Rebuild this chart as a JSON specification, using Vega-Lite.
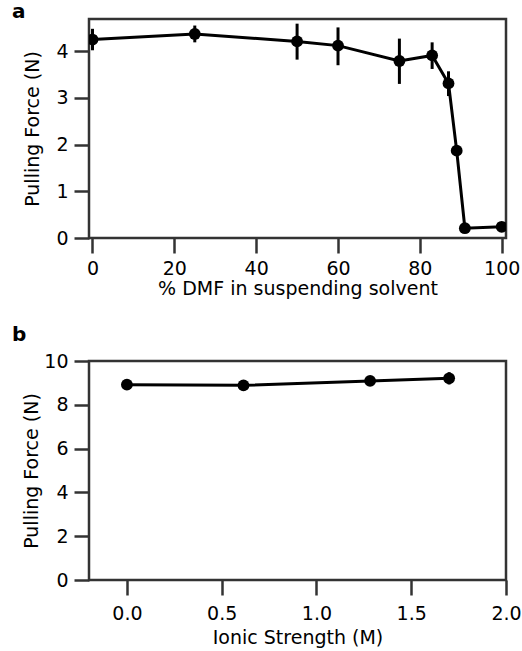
{
  "$schema": "https://vega.github.io/schema/vega-lite/v6.json",
  "padding": {"left": 10, "top": 0, "right": 0, "bottom": 0},
  "spacing": 23,
  "config": {
    "font": "DejaVu Sans",
    "view": {"stroke": "#333333", "strokeWidth": 2.5},
    "axis": {
      "domain": false,
      "grid": false,
      "tickColor": "#333333",
      "tickWidth": 2.5,
      "tickSize": 15,
      "labelFont": "DejaVu Sans",
      "labelFontSize": 19,
      "labelColor": "#000000",
      "labelPadding": 6,
      "labelFlush": false,
      "titleFont": "DejaVu Sans",
      "titleFontSize": 19,
      "titleFontWeight": "normal",
      "titleColor": "#000000"
    }
  },
  "vconcat": [
    {
      "title": {"text": "a", "anchor": "start", "frame": "group", "dx": -77, "offset": -3, "fontSize": 20, "fontWeight": "bold", "font": "DejaVu Sans", "color": "#000000"},
      "width": 417,
      "height": 219,
      "data": {
        "values": [
          {"dmf": 0, "force": 4.25, "lo": 4.02, "hi": 4.48},
          {"dmf": 25, "force": 4.37, "lo": 4.19, "hi": 4.55},
          {"dmf": 50, "force": 4.21, "lo": 3.82, "hi": 4.59},
          {"dmf": 60, "force": 4.12, "lo": 3.70, "hi": 4.51},
          {"dmf": 75, "force": 3.79, "lo": 3.30, "hi": 4.27},
          {"dmf": 83, "force": 3.91, "lo": 3.62, "hi": 4.19},
          {"dmf": 87, "force": 3.31, "lo": 3.04, "hi": 3.57},
          {"dmf": 89, "force": 1.87, "lo": 1.77, "hi": 1.97},
          {"dmf": 91, "force": 0.21, "lo": 0.16, "hi": 0.26},
          {"dmf": 100, "force": 0.24, "lo": 0.19, "hi": 0.29}
        ]
      },
      "encoding": {
        "x": {
          "field": "dmf", "type": "quantitative",
          "scale": {"domain": [-0.85, 101.05], "nice": false, "zero": false},
          "axis": {"values": [0, 20, 40, 60, 80, 100], "title": "% DMF in suspending solvent", "titlePadding": 1}
        }
      },
      "layer": [
        {
          "mark": {"type": "rule", "strokeWidth": 3, "color": "#000000", "clip": true},
          "encoding": {
            "y": {"field": "lo", "type": "quantitative", "scale": {"domain": [0, 4.69], "nice": false},
                  "axis": {"values": [0, 1, 2, 3, 4], "title": "Pulling Force (N)", "titlePadding": 13}},
            "y2": {"field": "hi"}
          }
        },
        {
          "mark": {"type": "line", "strokeWidth": 3, "color": "#000000", "clip": true},
          "encoding": {"y": {"field": "force", "type": "quantitative"}}
        },
        {
          "mark": {"type": "point", "filled": true, "size": 140, "opacity": 1, "color": "#000000", "clip": true},
          "encoding": {"y": {"field": "force", "type": "quantitative"}}
        }
      ]
    },
    {
      "title": {"text": "b", "anchor": "start", "frame": "group", "dx": -77, "offset": 7, "fontSize": 20, "fontWeight": "bold", "font": "DejaVu Sans", "color": "#000000"},
      "width": 417,
      "height": 219,
      "data": {
        "values": [
          {"ionic": 0, "force": 8.92, "lo": 8.77, "hi": 9.07},
          {"ionic": 0.615, "force": 8.89, "lo": 8.74, "hi": 9.04},
          {"ionic": 1.283, "force": 9.09, "lo": 8.94, "hi": 9.24},
          {"ionic": 1.70, "force": 9.21, "lo": 8.93, "hi": 9.49}
        ]
      },
      "encoding": {
        "x": {
          "field": "ionic", "type": "quantitative",
          "scale": {"domain": [-0.2, 2.0], "nice": false, "zero": false},
          "axis": {"values": [0, 0.5, 1, 1.5, 2], "format": ".1f", "title": "Ionic Strength (M)", "titlePadding": 5, "labelPadding": 9}
        }
      },
      "layer": [
        {
          "mark": {"type": "rule", "strokeWidth": 3, "color": "#000000", "clip": true},
          "encoding": {
            "y": {"field": "lo", "type": "quantitative", "scale": {"domain": [0, 10], "nice": false},
                  "axis": {"values": [0, 2, 4, 6, 8, 10], "title": "Pulling Force (N)", "titlePadding": 2}},
            "y2": {"field": "hi"}
          }
        },
        {
          "mark": {"type": "line", "strokeWidth": 3, "color": "#000000", "clip": true},
          "encoding": {"y": {"field": "force", "type": "quantitative"}}
        },
        {
          "mark": {"type": "point", "filled": true, "size": 140, "opacity": 1, "color": "#000000", "clip": true},
          "encoding": {"y": {"field": "force", "type": "quantitative"}}
        }
      ]
    }
  ]
}
